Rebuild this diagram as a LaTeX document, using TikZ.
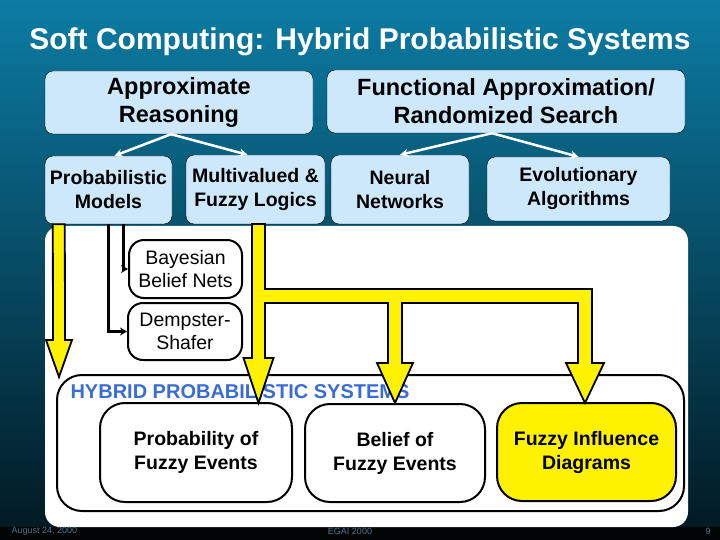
\documentclass[tikz,border=0pt]{standalone}
\usepackage{fontspec}
\setmainfont{Liberation Sans}
\usetikzlibrary{arrows.meta,calc}
\definecolor{boxblue}{RGB}{205,232,250}
\definecolor{slidetop}{RGB}{12,124,164}
\definecolor{slidemid}{RGB}{6,92,124}
\definecolor{slidebot}{RGB}{2,26,36}
\definecolor{hybblue}{RGB}{58,108,212}
\definecolor{footgray}{RGB}{85,115,135}
\newcommand{\fatarrow}[2]{
    \draw[yarrow] ($(#1)+(-6,0)$) -- ($(#1)+(6,0)$) -- ($(#2)+(6,-37)$) -- ($(#2)+(13,-37)$)
        -- (#2) -- ($(#2)+(-13,-37)$) -- ($(#2)+(-6,-37)$) -- cycle;
}
\tikzset{
    topbox/.style={draw, fill=boxblue, rounded corners=8pt, inner sep=0pt, align=center,
        font=\bfseries\fontsize{23.5}{28}\selectfont},
    subbox/.style={draw, fill=boxblue, rounded corners=8pt, inner sep=0pt, align=center,
        font=\bfseries\fontsize{19.5}{24}\selectfont},
    methbox/.style={draw, line width=2pt, fill=white, rounded corners=15pt, inner sep=0pt, align=center,
        font=\fontsize{19.5}{23}\selectfont},
    hybbox/.style={draw, line width=2pt, fill=white, rounded corners=25pt, inner sep=0pt, align=center,
        font=\bfseries\fontsize{19.5}{24}\selectfont},
    whitearrow/.style={draw=white, line width=2.5pt, -{Stealth[length=8pt,width=8pt]}},
    conn/.style={line width=3pt, -{Stealth[length=7pt,width=8pt]}},
    yarrow/.style={draw=black, line width=1.8pt, fill=yellow, line join=miter},
    foot/.style={text=footgray, font=\fontsize{9}{10}\selectfont}
}
\begin{document}
\begin{tikzpicture}[x=1pt,y=-1pt]
    \useasboundingbox (0,0) rectangle (720,540);
    \clip (0,0) rectangle (720,540);
    % slide background
    \shade[top color=slidetop, middle color=slidemid, bottom color=slidebot] (0,0) rectangle (720,527);
    \fill[black!85!slidebot] (0,527) rectangle (720,540);
    \node[anchor=base, text=white, font=\bfseries\fontsize{30}{36}\selectfont] (title) at (360,50)
        {Soft Computing: Hybrid Probabilistic Systems};

    % upper tree
    \node[topbox, minimum width=268, minimum height=63] (approx) at (179,102.5) {Approximate\\Reasoning};
    \node[topbox, minimum width=358, minimum height=63] (funcapp) at (506,101.5) {Functional Approximation/\\Randomized Search};
    \node[subbox, minimum width=127, minimum height=68] (probmod) at (108.5,190) {Probabilistic\\Models};
    \node[subbox, minimum width=139, minimum height=69] (multfuzzy) at (255.5,189.5) {Multivalued \&\\Fuzzy Logics};
    \node[subbox, minimum width=138, minimum height=69] (neural) at (400,189.5) {Neural\\Networks};
    \node[subbox, minimum width=183, minimum height=64] (evol) at (578.5,189) {Evolutionary\\Algorithms};
    \draw[whitearrow] ($(approx.south)+(-8,0)$) -- ($(probmod.north)+(6,0)$);
    \draw[whitearrow] ($(approx.south)+(-8,0)$) -- ($(multfuzzy.north)+(-8,0)$);
    \draw[whitearrow] ($(funcapp.south)+(-14,0)$) -- (neural.north);
    \draw[whitearrow] ($(funcapp.south)+(-14,0)$) -- (evol.north);

    % white panel
    \fill[white, rounded corners=15pt] (45,226) rectangle (688,527);
    \node[hybbox, minimum width=627, minimum height=136] (hybrid) at (370.5,443) {};
    \node[anchor=base west, text=hybblue, font=\bfseries\fontsize{20}{24}\selectfont] (hyblabel) at (67,398)
        {HYBRID PROBABILISTIC SYSTEMS};
    \node[hybbox, minimum width=192, minimum height=99] (probfuzzy) at (196,452.5) {Probability of\\Fuzzy Events};
    \node[hybbox, minimum width=180, minimum height=98] (belieffuzzy) at (395,453) {Belief of\\Fuzzy Events};
    \node[hybbox, fill=yellow, minimum width=179, minimum height=98] (fuzzyinfl) at (586.5,452) {Fuzzy Influence\\Diagrams};
    \node[methbox, minimum width=113, minimum height=58] (bayes) at (185.5,269) {Bayesian\\Belief Nets};
    \node[methbox, minimum width=114, minimum height=57] (dempster) at (185,331.5) {Dempster-\\Shafer};
    \draw[conn] ($(probmod.south)+(14.5,0)$) |- (bayes.west);
    \draw[conn] (probmod.south) |- (dempster.west);

    % yellow arrows
    \coordinate (ysrcA) at ($(probmod.south west)+(14,0)$);
    \coordinate (tipA) at (59,377);
    \fatarrow{ysrcA}{tipA}
    \coordinate (ysrc) at (258.5,224);
    \coordinate (tipB) at (258.5,403);
    \coordinate (tipC) at (395,403);
    \coordinate (tipD) at (585,403);
    \draw[yarrow] ($(ysrc)+(-6.5,0)$) -- ($(ysrc)+(6.5,0)$) -- (265,289) -- (592,289) -- (592,363)
        -- (604,363) -- (tipD) -- (566,363) -- (578,363) -- (578,303) -- (402,303) -- (402,363)
        -- (413,363) -- (tipC) -- (377,363) -- (388,363) -- (388,303) -- (265,303) -- (265,358)
        -- (273.5,358) -- (tipB) -- (243.5,358) -- (252,358) -- cycle;

    % footer
    \node[foot, anchor=west] (date) at (8,531) {August 24, 2000};
    \node[foot] (conf) at (350,531) {EGAI 2000};
    \node[foot] (page) at (708,531) {9};
\end{tikzpicture}
\end{document}
